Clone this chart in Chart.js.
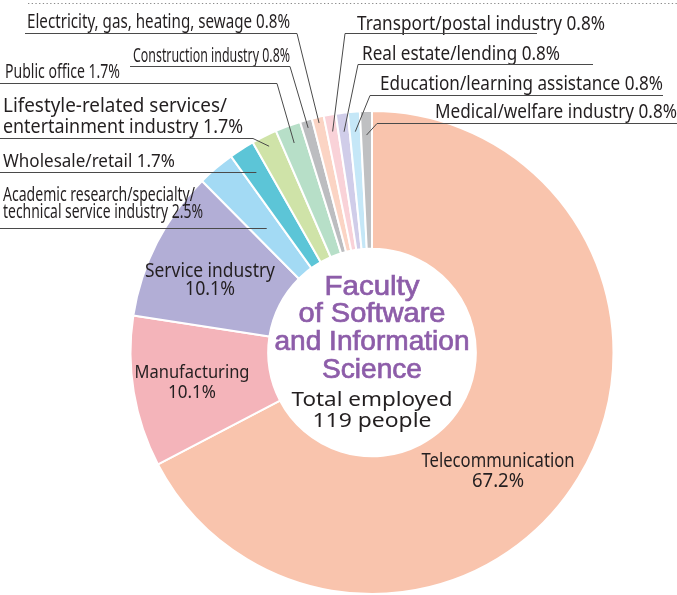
<!DOCTYPE html>
<html>
<head>
<meta charset="utf-8">
<script src="https://cdn.jsdelivr.net/npm/chart.js@4.4.0/dist/chart.umd.min.js"></script>
<style>
  html, body { margin: 0; padding: 0; background: #fff; }
</style>
</head>
<body>
<canvas id="sectorChart" width="677" height="595"></canvas>
<script>
// employment sectors, clockwise from 12 o'clock
const categories = [
    'Telecommunication',
    'Manufacturing',
    'Service industry',
    'Academic research/specialty/technical service industry',
    'Wholesale/retail',
    'Lifestyle-related services/entertainment industry',
    'Public office',
    'Construction industry',
    'Electricity, gas, heating, sewage',
    'Transport/postal industry',
    'Real estate/lending',
    'Education/learning assistance',
    'Medical/welfare industry'
];
const shares = [67.2, 10.1, 10.1, 2.5, 1.7, 1.7, 1.7, 0.8, 0.8, 0.8, 0.8, 0.8, 0.8];
const sliceColors = [
    '#F9C4AD', '#F4B4BA', '#B2AED6', '#A3DAF4', '#5CC5D7', '#CFE3A8', '#B7DFC8',
    '#BCBDC0', '#FBD4C4', '#F9D2D8', '#D0CDE9', '#C5E7F7', '#BFC0C2'
];
const centerTitle = ['Faculty', 'of Software', 'and Information', 'Science'];
const centerNote = ['Total employed', '119 people'];

// outside labels with leader lines
const callouts = [
    { i: 8, side: 'L', x: 27, y: [28], w: [263], size: 19, lineY: 33, x0: 25, x1: 297, depth: 6 },
    { i: 7, side: 'L', x: 133, y: [62], w: [157], size: 20, lineY: 66, x0: 130, x1: 290, depth: 8 },
    { i: 6, side: 'L', x: 5, y: [78], w: [115], size: 19, lineY: 83, x0: 0, x1: 277, depth: 18 },
    { i: 5, side: 'L', x: 3, y: [112, 133], w: [224, 240], size: 20, lineY: 138, x0: 0, x1: 253, depth: 11, brk: 'services/' },
    { i: 4, side: 'H', x: 3, y: [167], w: [172], size: 18, lineY: 172, x0: 0 },
    { i: 3, side: 'H', x: 3, y: [201, 218], w: [192, 200], size: 19.5, lineY: 228, x0: 0, brk: 'specialty/' },
    { i: 9, side: 'R', x: 357, y: [30], w: [248], size: 19.5, lineY: 33, x0: 345, x1: 537, depth: 17 },
    { i: 10, side: 'R', x: 362, y: [60], w: [198], size: 19, lineY: 64, x0: 358, x1: 593, depth: 19 },
    { i: 11, side: 'R', x: 380, y: [90], w: [283], size: 19.5, lineY: 95, x0: 370, x1: 663, depth: 20 },
    { i: 12, side: 'R', x: 435, y: [118], w: [242], size: 19, lineY: 123, x0: 377, x1: 677, depth: 24 }
];

// labels placed inside the big slices (centred)
const insideLabels = [
    { i: 0, x: 498, y: [467, 487], w: [153, 52], size: 19 },
    { i: 1, x: 192, y: [378, 398], w: [115, 48], size: 18.5 },
    { i: 2, x: 210, y: [277, 295], w: [130, 50], size: 19 }
];

const textColor = '#231f20';
const lineColor = '#4a4a4a';
const labelFont = '"Noto Sans", sans-serif';

function pct(i) {
    return shares[i].toFixed(1) + '%';
}

// draw text squeezed/stretched to a given width
function fitText(ctx, text, x, y, width, align, stroke) {
    const m = ctx.measureText(text).width;
    const s = width / m;
    ctx.save();
    ctx.translate(align === 'center' ? x - width / 2 : x, y);
    ctx.scale(s, 1);
    ctx.textAlign = 'left';
    ctx.fillText(text, 0, 0);
    if (stroke) ctx.strokeText(text, 0, 0);
    ctx.restore();
}

const calloutPlugin = {
    id: 'callouts',
    afterDraw(chart) {
        const ctx = chart.ctx;
        const meta = chart.getDatasetMeta(0);
        ctx.save();

        // dotted rule along the top
        ctx.strokeStyle = '#8a8a8a';
        ctx.lineWidth = 1;
        ctx.setLineDash([1.3, 2.4]);
        ctx.beginPath();
        ctx.moveTo(28, 3.5);
        ctx.lineTo(677, 3.5);
        ctx.stroke();
        ctx.setLineDash([]);

        ctx.fillStyle = textColor;
        ctx.textBaseline = 'alphabetic';

        callouts.forEach(c => {
            const arc = meta.data[c.i];
            const p = arc.getProps(['x', 'y', 'startAngle', 'endAngle', 'outerRadius'], true);
            const mid = (p.startAngle + p.endAngle) / 2;

            const full = categories[c.i] + ' ' + pct(c.i);
            let lines = [full];
            if (c.brk) {
                const k = full.indexOf(c.brk) + c.brk.length;
                lines = [full.slice(0, k), full.slice(k)];
            }
            ctx.font = c.size + 'px ' + labelFont;
            lines.forEach((t, n) => fitText(ctx, t, c.x, c.y[n], c.w[n], 'left'));

            ctx.strokeStyle = lineColor;
            ctx.lineWidth = 1;
            ctx.beginPath();
            if (c.side === 'H') {
                // horizontal rule running straight into the slice
                const r = (c.lineY - p.y) / Math.sin(mid);
                const ex = p.x + r * Math.cos(mid);
                ctx.moveTo(c.x0, c.lineY + 0.5);
                ctx.lineTo(ex, c.lineY + 0.5);
            } else {
                const r = p.outerRadius - c.depth;
                const ex = p.x + r * Math.cos(mid);
                const ey = p.y + r * Math.sin(mid);
                const sx = c.side === 'L' ? c.x1 : c.x0;
                ctx.moveTo(c.x0, c.lineY + 0.5);
                ctx.lineTo(c.x1, c.lineY + 0.5);
                ctx.moveTo(sx, c.lineY + 0.5);
                ctx.lineTo(ex, ey);
            }
            ctx.stroke();
        });

        insideLabels.forEach(l => {
            ctx.font = l.size + 'px ' + labelFont;
            fitText(ctx, categories[l.i], l.x, l.y[0], l.w[0], 'center');
            fitText(ctx, pct(l.i), l.x, l.y[1], l.w[1], 'center');
        });

        // centre text
        const cx = meta.data[0].x;
        ctx.fillStyle = '#8d5da9';
        ctx.strokeStyle = '#8d5da9';
        ctx.lineWidth = 0.7;
        ctx.font = '28px "Liberation Sans", Arial, sans-serif';
        const titleY = [295, 322, 350, 378];
        const titleW = [95, 147, 195, 100];
        centerTitle.forEach((t, n) => fitText(ctx, t, cx, titleY[n], titleW[n], 'center', true));

        ctx.fillStyle = textColor;
        ctx.font = '20px ' + labelFont;
        fitText(ctx, centerNote[0], cx, 406, 161, 'center');
        fitText(ctx, centerNote[1], cx, 427, 119, 'center');

        ctx.restore();
    }
};

const ctx = document.getElementById('sectorChart').getContext('2d');
new Chart(ctx, {
    type: 'doughnut',
    data: {
        labels: categories,
        datasets: [{
            data: shares,
            backgroundColor: sliceColors,
            borderColor: '#ffffff',
            borderWidth: 2
        }]
    },
    options: {
        responsive: false,
        animation: false,
        cutout: '43%',
        rotation: 0,
        layout: { padding: { left: 129, right: 62, top: 110, bottom: 0 } },
        plugins: {
            legend: { display: false },
            tooltip: { enabled: false }
        }
    },
    plugins: [calloutPlugin]
});
</script>
</body>
</html>
